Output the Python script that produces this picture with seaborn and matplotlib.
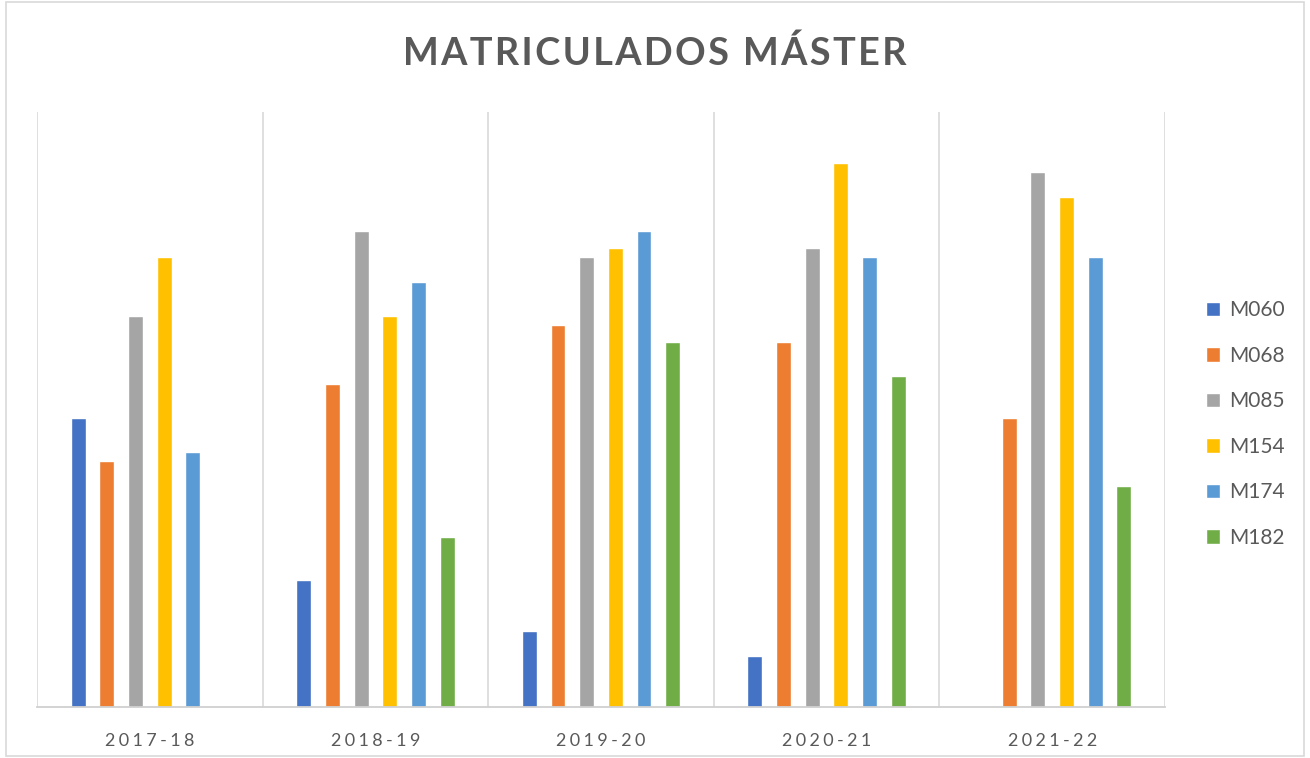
import matplotlib
matplotlib.use("Agg")
import matplotlib.pyplot as plt
import pandas as pd
import seaborn as sns
from matplotlib.patches import Rectangle

# datos (sin eje Y, unidades relativas)
cursos = ["2017-18", "2018-19", "2019-20", "2020-21", "2021-22"]
masters = ["M060", "M068", "M085", "M154", "M174", "M182"]
m060 = [34, 15, 9, 6, None]
m068 = [29, 38, 45, 43, 34]
m085 = [46, 56, 53, 54, 63]
m154 = [53, 46, 54, 64, 60]
m174 = [30, 50, 56, 53, 53]
m182 = [None, 20, 43, 39, 26]
colores = ["#4472C4", "#ED7D31", "#A5A5A5", "#FFC000", "#5B9BD5", "#70AD47"]

series = [m060, m068, m085, m154, m174, m182]
rows = []
for name, vals in zip(masters, series):
    for curso, v in zip(cursos, vals):
        if v is not None:
            rows.append({"curso": curso, "master": name, "valor": v})
df = pd.DataFrame(rows)

sns.set_style("white")
plt.rcParams["font.family"] = ["Lato", "DejaVu Sans"]


def spaced(s, sep="\u2009"):
    return sep.join(s)


fig = plt.figure(figsize=(13.1, 7.58), dpi=100)
ax = fig.add_axes([37 / 1310, 1 - 707 / 758, (1165 - 37) / 1310, (707 - 112) / 758])

sns.barplot(
    data=df, x="curso", y="valor", hue="master",
    order=cursos, hue_order=masters, palette=colores,
    width=0.763, gap=0.48, saturation=1, ax=ax,
)

ax.set_xlim(-0.5, len(cursos) - 0.5)
ax.set_ylim(0, 70)
ax.set_yticks([])
ax.set_xlabel("")
ax.set_ylabel("")
for x in range(len(cursos) + 1):
    ax.axvline(x - 0.5, color="#d9d9d9", lw=1.2, zorder=0)
for side in ["top", "right", "left"]:
    ax.spines[side].set_visible(False)
ax.spines["bottom"].set_color("#d0d0d0")
ax.spines["bottom"].set_linewidth(1.3)
ax.set_xticks(range(len(cursos)))
ax.set_xticklabels([spaced(c, "\u2009\u200a") for c in cursos], fontsize=13, color="#595959")
ax.tick_params(axis="x", length=0, pad=19)

ax.legend_.remove()
handles, labels = ax.get_legend_handles_labels()
fig.legend(
    handles, labels, loc="center left", bbox_to_anchor=(1187 / 1310, 1 - 424 / 758),
    frameon=False, fontsize=15, labelcolor="#595959",
    handlelength=0.7, handleheight=0.7, handletextpad=0.4, labelspacing=1.22,
)

fig.text(0.5, 1 - 53 / 758, spaced("MATRICULADOS MÁSTER", "\u200a"),
         ha="center", va="center", fontsize=27.3, fontweight="bold", color="#595959")

fig.patches.append(Rectangle((6 / 1310, 2 / 758), 1 - 12 / 1310, 1 - 4 / 758,
                             transform=fig.transFigure, fill=False,
                             edgecolor="#d9d9d9", lw=1.2))

fig.savefig("out.png", dpi=100)
